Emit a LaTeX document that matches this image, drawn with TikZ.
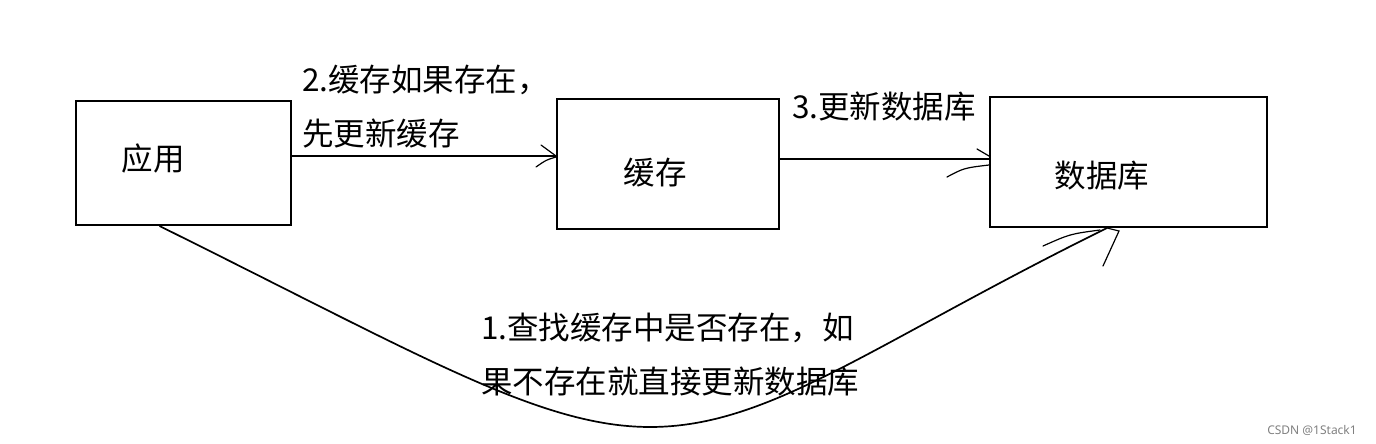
\documentclass[tikz,border=0pt]{standalone}
\usepackage{fontspec}
\setmainfont{Noto Sans CJK SC}
\newfontfamily\markfont{Noto Sans}
\usepackage{tikz}
\usetikzlibrary{positioning}

\begin{document}
\begin{tikzpicture}[
  x=1pt, y=-1pt,
  box/.style={draw, line width=2pt, inner sep=0pt},
  lbl/.style={font=\fontsize{31.5}{54}\selectfont, inner sep=0pt, align=left},
  link/.style={line width=1.8pt},
  tip/.style={line width=1.2pt, line cap=round},
]
\useasboundingbox (0,0) rectangle (1376,444);

% boxes
\node[box, minimum width=215pt, minimum height=124pt] (app) at (183.5,163) {};
\node[box, minimum width=222pt, minimum height=130pt] (cache) at (668,164) {};
\node[box, minimum width=277pt, minimum height=130pt] (db) at (1128.5,162) {};

\node[lbl] (appname) at (153,159) {应用};
\node[lbl] (cachename) at (655,173) {缓存};
\node[lbl] (dbname) at (1102,176) {数据库};

% 2. app -> cache
\coordinate (y1) at (0,156);
\coordinate (e1) at (cache.west |- y1);
\draw[link] (app.east |- y1) -- (e1);
\draw[tip] ([shift={(-15,-11)}]e1) -- (e1);
\draw[tip] ([shift={(-20,11)}]e1) .. controls ([shift={(-10,4)}]e1) .. ([shift={(0,1)}]e1);
\node[lbl, anchor=west] (stepB) at (302,107) {2.缓存如果存在，\\先更新缓存};

% 3. cache -> db
\coordinate (y2) at (0,159);
\coordinate (e2) at (db.west |- y2);
\draw[link] (cache.east |- y2) -- (e2);
\draw[tip] ([shift={(-12,-10)}]e2) -- ([shift={(0,-3)}]e2);
\draw[tip] ([shift={(-42,18)}]e2) .. controls ([shift={(-25,9)}]e2) .. ([shift={(0,6)}]e2);
\node[lbl, anchor=west] (stepC) at (792,107) {3.更新数据库};

% 1. app -> db, round the bottom
\coordinate (s3) at ([xshift=-24]app.south);
\coordinate (e3) at ([xshift=-21.5]db.south);
\draw[line width=1.7pt] (s3) .. controls (420,355) and (540,427) .. (650,427)
  .. controls (770,427) and (870,345) .. (e3);
\draw[tip] ([shift={(-64,18)}]e3) .. controls ([shift={(-37,6)}]e3) .. ([shift={(-7,2)}]e3);
\draw[tip] (e3) -- ([shift={(12,3)}]e3) -- ([shift={(-4,38)}]e3);
\node[lbl, anchor=west] (stepA) at (481,355) {1.查找缓存中是否存在，如\\果不存在就直接更新数据库};

\node[font=\markfont\fontsize{12}{12}\selectfont, text=gray] (mark) at (1312,430) {CSDN @1Stack1};
\end{tikzpicture}
\end{document}
